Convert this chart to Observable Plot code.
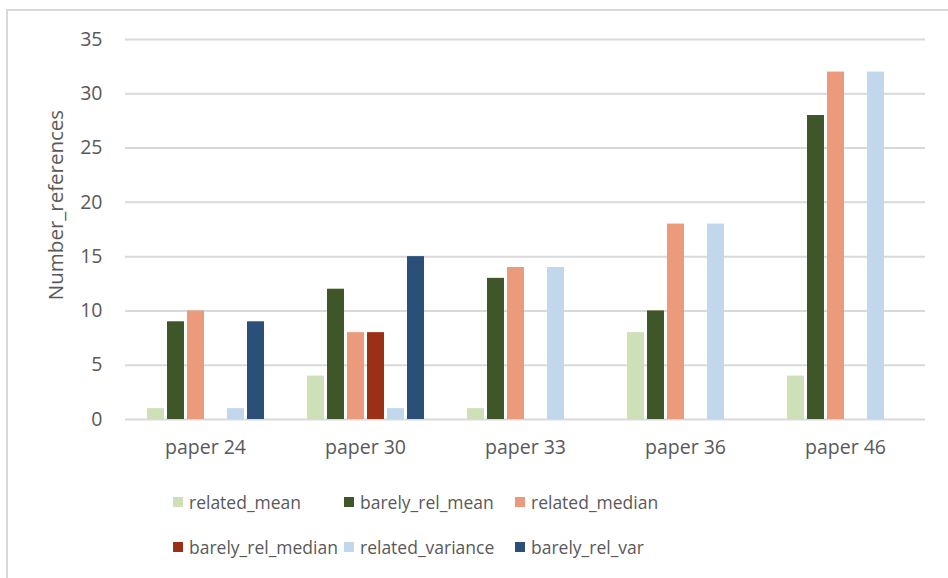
<!DOCTYPE html>
<html>
<head>
<meta charset="utf-8">
<script src="https://cdn.jsdelivr.net/npm/d3@7"></script>
<script src="https://cdn.jsdelivr.net/npm/@observablehq/plot@0.6"></script>
<style>
  html, body { margin: 0; padding: 0; background: #fff; }
  body { width: 948px; height: 578px; position: relative; overflow: hidden; font-family: "Open Sans", Lato, sans-serif; color: #595959; }
  #frame { position: absolute; left: 6px; top: 9px; right: -4px; bottom: -4px; border-top: 2px solid #d9d9d9; border-left: 2px solid #d9d9d9; }
  #chart { position: absolute; left: 0; top: 0; }
  #ylabel { position: absolute; left: 55px; top: 205px; font-size: 20.5px; white-space: nowrap; line-height: 1; transform: translate(-50%, -50%) rotate(-90deg); }
  #legend { position: absolute; left: 173px; top: 490px; display: grid; grid-template-columns: 171px 171px 171px; row-gap: 21px; font-size: 17.5px; }
  .item { display: flex; align-items: center; height: 24px; white-space: nowrap; }
  .sw { width: 10px; height: 10px; margin-right: 6px; flex: none; }
</style>
</head>
<body>
<div id="frame"></div>
<div id="chart"></div>
<div id="ylabel">Number_references</div>
<div id="legend"></div>
<script>
// Categories and series
const papers = ["paper 24", "paper 30", "paper 33", "paper 36", "paper 46"];
const series = ["related_mean", "barely_rel_mean", "related_median", "barely_rel_median", "related_variance", "barely_rel_var"];
const colors = ["#cde0b8", "#3f5629", "#eb9a7c", "#9b3017", "#c0d7ec", "#2a4f78"];

// Number of references per paper, one array per series
const relatedMean      = [1, 4, 1, 8, 4];
const barelyRelMean    = [9, 12, 13, 10, 28];
const relatedMedian    = [10, 8, 14, 18, 32];
const barelyRelMedian  = [0, 8, 0, 0, 0];
const relatedVariance  = [1, 1, 14, 18, 32];
const barelyRelVar     = [9, 15, 0, 0, 0];

const yTicks = [0, 5, 10, 15, 20, 25, 30, 35];

const values = [relatedMean, barelyRelMean, relatedMedian, barelyRelMedian, relatedVariance, barelyRelVar];
const rows = [];
papers.forEach((p, i) => series.forEach((s, j) => rows.push({paper: p, series: s, value: values[j][i]})));

const chart = Plot.plot({
  width: 948,
  height: 470,
  marginTop: 39,
  marginBottom: 51,
  marginLeft: 125,
  marginRight: 23,
  style: {fontFamily: "'Open Sans', Lato, sans-serif", fontSize: "19.5px", color: "#595959", background: "transparent"},
  fx: {domain: papers, padding: 0, label: null},
  x: {domain: series, paddingInner: 0.17, paddingOuter: 1.0, axis: null},
  y: {domain: [0, 35]},
  color: {domain: series, range: colors},
  marks: [
    Plot.gridY(yTicks, {stroke: "#d9d9d9", strokeOpacity: 1, strokeWidth: 2}),
    Plot.axisY(yTicks, {tickSize: 0, tickPadding: 23, label: null, fill: "#595959"}),
    Plot.axisFx({anchor: "bottom", tickSize: 0, tickPadding: 21, label: null, fill: "#595959"}),
    Plot.barY(rows, {fx: "paper", x: "series", y: "value", fill: "series"})
  ]
});
document.getElementById("chart").appendChild(chart);

// Legend in three columns, two rows
const legend = document.getElementById("legend");
series.forEach((s, j) => {
  const item = document.createElement("div");
  item.className = "item";
  const sw = document.createElement("span");
  sw.className = "sw";
  sw.style.background = colors[j];
  const label = document.createElement("span");
  label.textContent = s;
  item.append(sw, label);
  legend.appendChild(item);
});
</script>
</body>
</html>
